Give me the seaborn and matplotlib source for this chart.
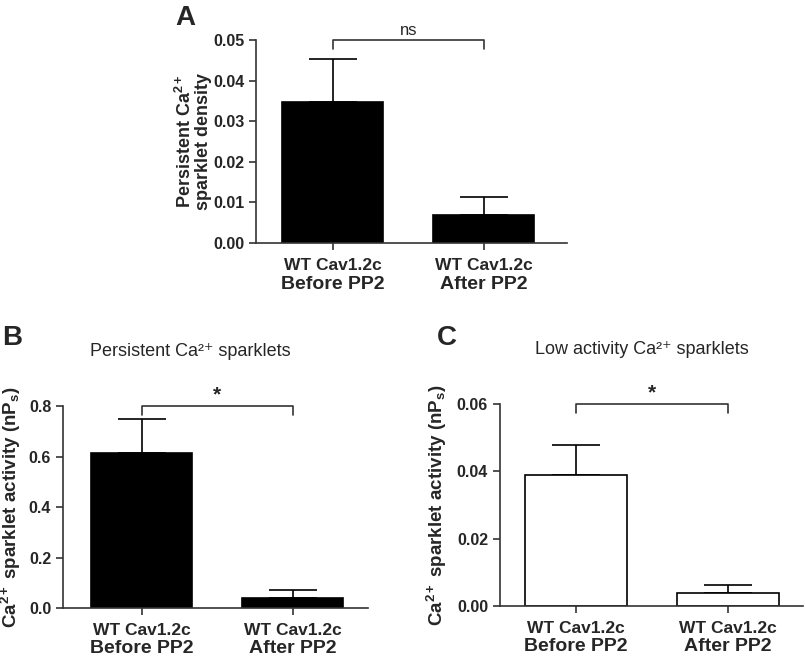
import matplotlib
matplotlib.use("Agg")
import pandas as pd
import seaborn as sns
from matplotlib import pyplot as plt

sns.set_style("ticks")
plt.rcParams['font.family'] = ['Liberation Sans', 'DejaVu Sans']
plt.rcParams['mathtext.fontset'] = 'custom'
plt.rcParams['mathtext.rm'] = 'Liberation Sans'
plt.rcParams['mathtext.bf'] = 'Liberation Sans:bold'
plt.rcParams['mathtext.it'] = 'Liberation Sans:italic'
plt.rcParams['mathtext.default'] = 'regular'

groups = ['WT Cav1.2c\nBefore PP2', 'WT Cav1.2c\nAfter PP2']

# panel A: persistent sparklet density
density_mean = [0.0348, 0.0069]
density_sem = [0.0105, 0.0045]

# panel B: persistent sparklet activity
persist_mean = [0.615, 0.040]
persist_sem = [0.135, 0.033]

# panel C: low activity sparklet activity
low_mean = [0.0389, 0.0038]
low_sem = [0.0091, 0.0025]

fig = plt.figure(figsize=(8.05, 6.66), dpi=100)


def bar_panel(rect, mean, sem, fill, ylim, yticks, fmt, ylabel, sig, xlim,
              label_size, label_pad):
    ax = fig.add_axes(rect)
    df = pd.DataFrame({'group': groups, 'value': mean})
    sns.barplot(data=df, x='group', y='value', color=fill, edgecolor='black',
                linewidth=1.2, width=0.67, errorbar=None, ax=ax, zorder=2)
    for p in ax.patches:
        p.set_facecolor(fill)
        p.set_edgecolor('black')
    ax.errorbar([0, 1], mean, yerr=[[0, 0], sem], fmt='none', ecolor='black',
                elinewidth=1.2, capsize=17, capthick=1.2, zorder=1)
    ax.set_xlim(*xlim)
    ax.set_ylim(*ylim)
    ax.set_yticks(yticks)
    ax.set_yticklabels([fmt.format(t) for t in yticks], fontsize=11.5, fontweight='bold')
    ax.set_xticks([0, 1])
    ax.set_xticklabels([])
    for i, g in enumerate(groups):
        top, bottom = g.split('\n')
        ax.text(i, -0.075, top, transform=ax.get_xaxis_transform(), ha='center',
                va='top', fontsize=12.5, fontweight='bold')
        ax.text(i, -0.16, bottom, transform=ax.get_xaxis_transform(), ha='center',
                va='top', fontsize=14, fontweight='bold')
    ax.set_xlabel('')
    ax.set_ylabel(ylabel, fontsize=label_size, fontweight='bold', labelpad=label_pad,
                  linespacing=1.05)
    ax.tick_params(axis='both', direction='out', length=5, width=1.2, color='#333333')
    for s in ['left', 'bottom']:
        ax.spines[s].set_linewidth(1.2)
        ax.spines[s].set_color('#333333')
    sns.despine(ax=ax)
    # significance bracket
    yb = ylim[1]
    drop = (ylim[1] - ylim[0]) * 0.045
    ax.plot([0, 0, 1, 1], [yb - drop, yb, yb, yb - drop], color='#333333',
            lw=1.2, clip_on=False)
    ax.text(0.5, yb + drop * 0.25, sig, ha='center', va='bottom',
            fontsize=12 if sig == 'ns' else 15, fontweight='normal' if sig == 'ns' else 'bold')
    return ax


bar_panel([0.318, 0.635, 0.386, 0.305], density_mean, density_sem, 'black',
          (0, 0.05), [0, 0.01, 0.02, 0.03, 0.04, 0.05], '{:.2f}',
          'Persistent Ca$^{\\mathbf{2+}}$\nsparklet density', 'ns', (-0.51, 1.55),
          13, 0.5)

bar_panel([0.0783, 0.0871, 0.379, 0.303], persist_mean, persist_sem, 'black',
          (0, 0.8), [0, 0.2, 0.4, 0.6, 0.8], '{:.1f}',
          'Ca$^{\\mathbf{2+}}$ sparklet activity (nP$_{\\mathbf{s}}$)', '*', (-0.52, 1.5),
          13.5, 4)

bar_panel([0.621, 0.0901, 0.376, 0.303], low_mean, low_sem, 'white',
          (0, 0.06), [0, 0.02, 0.04, 0.06], '{:.2f}',
          'Ca$^{\\mathbf{2+}}$ sparklet activity (nP$_{\\mathbf{s}}$)', '*', (-0.5, 1.49),
          13.5, 6)

fig.text(190 / 805, 1 - 352 / 666, 'Persistent Ca²⁺ sparklets', ha='center',
         va='center', fontsize=13)
fig.text(642 / 805, 1 - 350 / 666, 'Low activity Ca²⁺ sparklets', ha='center',
         va='center', fontsize=13)

fig.text(185 / 805, 1 - 18 / 666, 'A', ha='center', va='center', fontsize=20, fontweight='bold')
fig.text(12 / 805, 1 - 338 / 666, 'B', ha='center', va='center', fontsize=20, fontweight='bold')
fig.text(447 / 805, 1 - 338 / 666, 'C', ha='center', va='center', fontsize=20, fontweight='bold')

fig.savefig('out.png', dpi=100, facecolor='white')
